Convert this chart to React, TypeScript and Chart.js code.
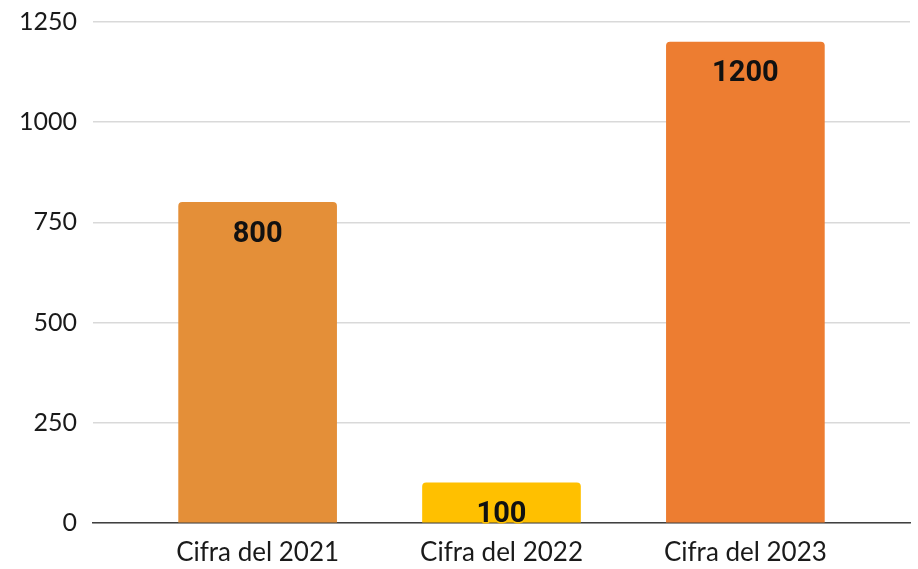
import React, { useEffect, useRef } from "react";
import { Chart, registerables } from "chart.js";

Chart.register(...registerables);

const categories = ["Cifra del 2021", "Cifra del 2022", "Cifra del 2023"];
const values = [800, 100, 1200];
const barColors = ["#E48F38", "#FFC000", "#ED7D31"];
const yTicks = [0, 250, 500, 750, 1000, 1250];

const labelPlugin = {
  id: "barValueLabels",
  afterDatasetsDraw(chart: any) {
    const ctx = chart.ctx;
    const meta = chart.getDatasetMeta(0);
    ctx.save();
    ctx.font = "bold 29px Roboto";
    ctx.textAlign = "center";
    ctx.textBaseline = "middle";
    meta.data.forEach((el: any, i: number) => {
      const x = el.x;
      const y = el.y + 32;
      ctx.lineWidth = 3;
      ctx.strokeStyle = barColors[i];
      ctx.lineJoin = "round";
      ctx.strokeText(String(values[i]), x, y);
      ctx.fillStyle = "#111111";
      ctx.fillText(String(values[i]), x, y);
    });
    ctx.restore();
  },
};

export default function App() {
  const ref = useRef<HTMLCanvasElement>(null);
  useEffect(() => {
    document.body.style.margin = "0";
    const chart = new Chart(ref.current!, {
      type: "bar",
      data: {
        datasets: [
          {
            data: values.map((v, i) => ({ x: i, y: v })),
            backgroundColor: barColors,
            barThickness: 158,
            borderRadius: { topLeft: 4, topRight: 4, bottomLeft: 0, bottomRight: 0 },
            borderSkipped: "bottom",
          },
        ],
      },
      options: {
        animation: false,
        responsive: false,
        maintainAspectRatio: false,
        layout: { padding: { top: 22, right: 8, left: 0, bottom: 0 } },
        plugins: { legend: { display: false }, tooltip: { enabled: false } },
        scales: {
          x: {
            type: "linear",
            offset: false,
            min: -0.675,
            max: 2.675,
            grid: { display: false, drawTicks: false, offset: false },
            border: { display: true, color: "#404040", width: 1.5 },
            ticks: {
              stepSize: 1,
              autoSkip: false,
              maxRotation: 0,
              padding: 14,
              color: "#1a1a1a",
              font: { family: "Lato", size: 26 },
              callback: (v: any) =>
                Number.isInteger(v) && categories[v] !== undefined ? categories[v] : "",
            },
            afterFit: (s: any) => {
              s.height = 46;
              s.paddingLeft = 0;
              s.paddingRight = 0;
            },
          },
          y: {
            min: 0,
            max: 1250,
            grid: { color: "#d9d9d9", lineWidth: 1.5, drawTicks: false },
            border: { display: false },
            afterBuildTicks: (s: any) => {
              s.ticks = yTicks.map((v) => ({ value: v }));
            },
            ticks: {
              padding: 16,
              color: "#1a1a1a",
              font: { family: "Lato", size: 25 },
              callback: (v: any) => String(v),
            },
            afterFit: (s: any) => {
              s.width = 93;
              s.paddingTop = 0;
              s.paddingBottom = 0;
            },
          },
        },
      },
      plugins: [labelPlugin],
    });
    return () => chart.destroy();
  }, []);
  return (
    <div style={{ position: "absolute", left: 0, top: 0, width: 918, height: 569 }}>
      <canvas ref={ref} width={918} height={569} style={{ display: "block" }} />
    </div>
  );
}
